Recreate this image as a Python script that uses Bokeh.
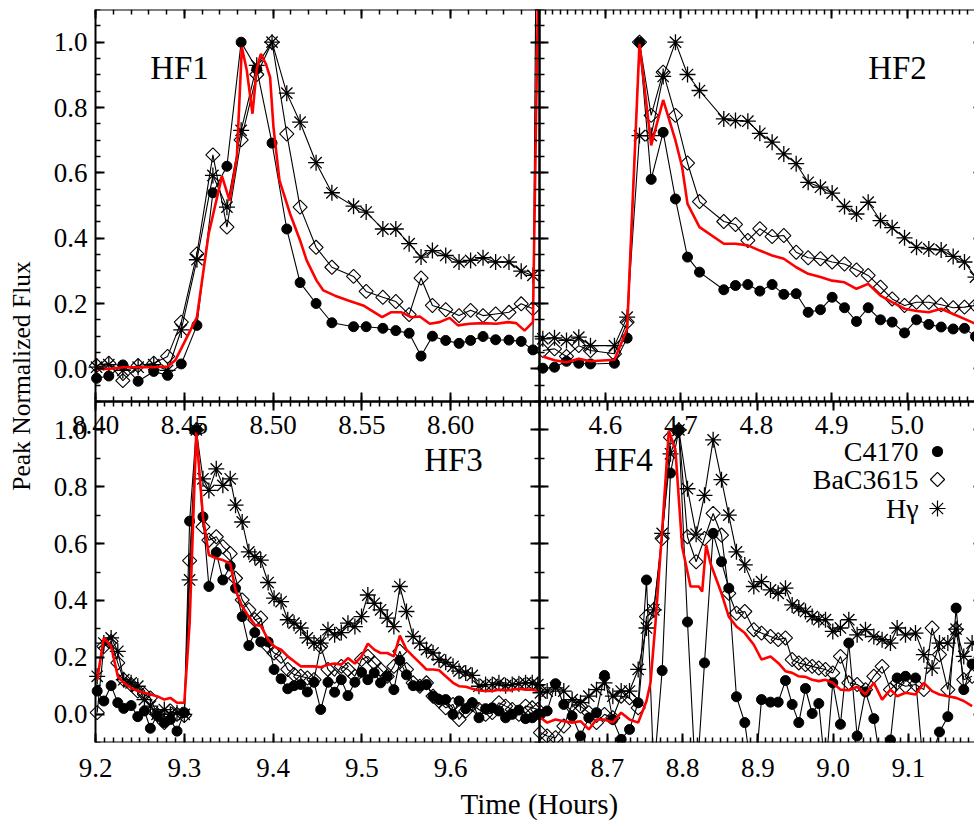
import math
from bokeh.plotting import figure
from bokeh.models import Range1d, LinearAxis, FixedTicker, PrintfTickFormatter, Label, Title
from bokeh.embed import file_html
from bokeh.resources import INLINE

# ------------------------------------------------------------------ data
# HF1
hf1_t = [8.4006, 8.4075, 8.4154, 8.4240, 8.4328, 8.4406, 8.4483, 8.4571, 8.4661, 8.4740,
         8.4820, 8.4908, 8.4994, 8.5077, 8.5152, 8.5242, 8.5331, 8.5453, 8.5524, 8.5618,
         8.5691, 8.5766, 8.5833, 8.5897, 8.5972, 8.6047, 8.6112, 8.6182, 8.6253, 8.6328,
         8.6397, 8.6463]
hf1_c_t = hf1_t + [8.6529]
hf1_c4170 = [-0.029, -0.022, 0.012, -0.038, -0.008, -0.020, 0.015, 0.133, 0.539, 0.620,
             1.000, 0.918, 0.691, 0.428, 0.264, 0.200, 0.141, 0.129, 0.129, 0.124,
             0.117, 0.109, 0.039, 0.100, 0.087, 0.078, 0.087, 0.099, 0.089, 0.088,
             0.084, 0.058, 4.6]
hf1_bac = [0.010, 0.017, -0.036, 0.010, 0.017, 0.038, 0.143, 0.352, 0.655, 0.434,
           0.701, 0.901, 1.000, 0.719, 0.495, 0.372, 0.311, 0.283, 0.237, 0.219,
           0.206, 0.166, 0.278, 0.194, 0.181, 0.163, 0.179, 0.163, 0.168, 0.173,
           0.199, 0.184]
hf1_hg = [0.005, 0.013, -0.005, 0.005, 0.013, -0.005, 0.119, 0.334, 0.592, 0.495,
          0.730, 0.929, 1.000, 0.844, 0.755, 0.631, 0.539, 0.498, 0.480, 0.428,
          0.428, 0.383, 0.342, 0.362, 0.347, 0.327, 0.332, 0.340, 0.327, 0.327,
          0.299, 0.286]
hf1_red_t = [8.4006, 8.4084, 8.4159, 8.4240, 8.4328, 8.4406, 8.4449, 8.4515, 8.4571, 8.4637,
             8.4712, 8.4755, 8.4796, 8.4824, 8.4852, 8.4884, 8.4908, 8.4931, 8.4959, 8.4983,
             8.5002, 8.5036, 8.5096, 8.5152, 8.5189, 8.5245, 8.5283, 8.5348, 8.5423, 8.5507,
             8.5614, 8.5663, 8.5723, 8.5779, 8.5826, 8.5882, 8.5938, 8.5994, 8.6041, 8.6107,
             8.6182, 8.6257, 8.6322, 8.6369, 8.6416, 8.6463, 8.6510]
hf1_red = [0.000, 0.000, 0.005, 0.005, 0.005, 0.007, 0.026, 0.097, 0.158, 0.413,
           0.590, 0.515, 0.648, 0.985, 0.913, 0.781, 0.918, 0.964, 0.934, 0.893,
           0.740, 0.577, 0.474, 0.393, 0.332, 0.270, 0.240, 0.224, 0.209, 0.194,
           0.158, 0.173, 0.173, 0.158, 0.160, 0.138, 0.143, 0.156, 0.133, 0.138,
           0.140, 0.138, 0.143, 0.140, 0.117, 0.143, 1.80]

# HF2
hf2_t = [4.5169, 4.5324, 4.5483, 4.5646, 4.5801, 4.6119, 4.6287, 4.6451, 4.6606, 4.6765,
         4.6928, 4.7088, 4.7247, 4.7569, 4.7724, 4.7888, 4.8047, 4.8210, 4.8365, 4.8529,
         4.8688, 4.8851, 4.9006, 4.9170, 4.9329, 4.9484, 4.9647, 4.9802, 4.9966, 5.0125,
         5.0288, 5.0452, 5.0611, 5.0761, 5.0907]
hf2_c4170 = [0.002, 0.005, 0.023, 0.017, 0.015, 0.017, 0.094, 1.000, 0.580, 0.724,
             0.520, 0.342, 0.296, 0.242, 0.255, 0.258, 0.238, 0.258, 0.228, 0.230,
             0.173, 0.181, 0.219, 0.187, 0.145, 0.187, 0.150, 0.143, 0.110, 0.150,
             0.136, 0.128, 0.122, 0.124, 0.099]
hf2_bac = [0.056, 0.061, 0.038, 0.071, 0.056, 0.046, 0.143, 1.000, 0.776, 0.908,
           0.776, 0.630, 0.512, 0.451, 0.442, 0.393, 0.429, 0.405, 0.408, 0.357,
           0.340, 0.337, 0.327, 0.321, 0.303, 0.286, 0.250, 0.214, 0.194, 0.204,
           0.204, 0.196, 0.187, 0.189, 0.194]
hf2_hg = [0.092, 0.095, 0.087, 0.097, 0.071, 0.071, 0.158, 0.714, 0.714, 0.895,
          1.000, 0.901, 0.852, 0.765, 0.760, 0.758, 0.721, 0.694, 0.658, 0.628,
          0.571, 0.556, 0.538, 0.497, 0.474, 0.510, 0.454, 0.432, 0.401, 0.372,
          0.367, 0.364, 0.344, 0.327, 0.281]
hf2_red_t = [4.5169, 4.5324, 4.5483, 4.5646, 4.5801, 4.6119, 4.6287, 4.6451, 4.6606, 4.6765,
             4.6928, 4.7017, 4.7088, 4.7247, 4.7569, 4.7724, 4.7888, 4.8047, 4.8210, 4.8365,
             4.8529, 4.8688, 4.8851, 4.9006, 4.9170, 4.9329, 4.9484, 4.9647, 4.9802, 4.9966,
             5.0125, 5.0288, 5.0452, 5.0611, 5.0761, 5.0907]
hf2_red = [0.038, 0.026, 0.020, 0.031, 0.023, 0.028, 0.122, 0.995, 0.684, 0.823,
           0.699, 0.617, 0.505, 0.434, 0.383, 0.383, 0.378, 0.362, 0.347, 0.337,
           0.311, 0.291, 0.281, 0.270, 0.265, 0.245, 0.260, 0.224, 0.204, 0.184,
           0.177, 0.173, 0.184, 0.168, 0.153, 0.138]

# HF3
hf3_t = [9.2019, 9.2094, 9.2176, 9.2251, 9.2318, 9.2401, 9.2476, 9.2551, 9.2618, 9.2693,
         9.2775, 9.2843, 9.2918, 9.3000, 9.3060, 9.3135, 9.3210, 9.3277, 9.3360, 9.3434,
         9.3517, 9.3577, 9.3652, 9.3727, 9.3794, 9.3861, 9.3944, 9.4011, 9.4090, 9.4165,
         9.4236, 9.4311, 9.4386, 9.4461, 9.4536, 9.4618, 9.4693, 9.4768, 9.4843, 9.4921,
         9.4996, 9.5067, 9.5139, 9.5210, 9.5285, 9.5360, 9.5427, 9.5502, 9.5577, 9.5652,
         9.5727, 9.5801, 9.5869, 9.5944, 9.6026, 9.6094, 9.6169, 9.6243, 9.6318, 9.6393,
         9.6468, 9.6543, 9.6618, 9.6693, 9.6768, 9.6843, 9.6918, 9.6981]
hf3_c4170 = [0.081, 0.046, 0.100, 0.040, 0.020, 0.030, -0.009, 0.011, -0.050, -0.005,
             -0.030, -0.019, -0.060, 0.005, 0.679, 1.000, 0.694, 0.449, 0.569, 0.472,
             0.521, 0.443, 0.343, 0.241, 0.287, 0.254, 0.254, 0.157, 0.124, 0.089,
             0.100, 0.104, 0.078, 0.112, 0.016, 0.112, 0.077, 0.121, 0.065, 0.112,
             0.147, 0.121, 0.145, 0.110, 0.133, 0.086, 0.189, 0.138, 0.100, 0.098,
             0.104, 0.063, 0.051, 0.051, -0.001, 0.046, 0.019, 0.040, -0.013, 0.019,
             0.022, 0.011, -0.013, -0.001, 0.014, -0.016, -0.013, -0.001]
hf3_bac = [0.005, 0.238, 0.256, 0.180, 0.121, 0.104, 0.081, 0.069, 0.057, -0.001,
           -0.030, 0.011, -0.001, -0.005, 0.540, 1.000, 0.659, 0.612, 0.624, 0.589,
           0.565, 0.478, 0.402, 0.367, 0.332, 0.338, 0.238, 0.215, 0.203, 0.157,
           0.139, 0.133, 0.127, 0.121, 0.238, 0.157, 0.133, 0.168, 0.157, 0.133,
           0.192, 0.203, 0.180, 0.157, 0.133, 0.168, 0.221, 0.157, 0.110, 0.098,
           0.110, 0.063, 0.046, 0.022, 0.034, -0.019, 0.011, 0.034, 0.016, -0.001,
           0.005, 0.040, 0.028, 0.016, -0.001, 0.028, 0.022, 0.016]
hf3_hg = [0.133, 0.250, 0.268, 0.221, 0.121, 0.110, 0.098, 0.051, 0.028, -0.001,
          0.016, -0.001, 0.005, -0.001, 0.472, 1.000, 0.828, 0.787, 0.863, 0.805,
          0.828, 0.735, 0.676, 0.571, 0.554, 0.542, 0.463, 0.408, 0.396, 0.332,
          0.320, 0.303, 0.268, 0.250, 0.250, 0.297, 0.279, 0.287, 0.320, 0.308,
          0.343, 0.419, 0.390, 0.367, 0.338, 0.308, 0.449, 0.361, 0.273, 0.250,
          0.227, 0.215, 0.192, 0.182, 0.168, 0.151, 0.145, 0.136, 0.098, 0.104,
          0.104, 0.110, 0.100, 0.104, 0.107, 0.110, 0.110, 0.104]
hf3_red = [0.121, 0.268, 0.238, 0.133, 0.110, 0.092, 0.081, 0.075, 0.069, 0.063,
           0.051, 0.057, 0.040, 0.040, 0.320, 0.992, 0.694, 0.560, 0.548, 0.542,
           0.530, 0.437, 0.379, 0.343, 0.314, 0.311, 0.262, 0.238, 0.227, 0.203,
           0.186, 0.168, 0.168, 0.168, 0.165, 0.174, 0.178, 0.174, 0.197, 0.178,
           0.203, 0.248, 0.227, 0.215, 0.215, 0.203, 0.276, 0.227, 0.203, 0.180,
           0.157, 0.157, 0.154, 0.133, 0.110, 0.098, 0.096, 0.089, 0.083, 0.081,
           0.081, 0.086, 0.083, 0.086, 0.089, 0.086, 0.086, 0.081]

# HF4
hf4_t = [8.6109, 8.6198, 8.6309, 8.6419, 8.6530, 8.6641, 8.6752, 8.6854, 8.6960, 8.7071,
         8.7182, 8.7293, 8.7408, 8.7519, 8.7616, 8.7727, 8.7838, 8.7949, 8.8064, 8.8179,
         8.8290, 8.8405, 8.8516, 8.8613, 8.8715, 8.8826, 8.8946, 8.9048, 8.9168, 8.9270,
         8.9367, 8.9456, 8.9544, 8.9633, 8.9722, 8.9810, 8.9899, 8.9996, 9.0098, 9.0209,
         9.0320, 9.0431, 9.0542, 9.0652, 9.0763, 9.0852, 9.0963, 9.1096, 9.1207, 9.1317,
         9.1415, 9.1526, 9.1636, 9.1738, 9.1849]
hf4_c4170 = [-0.001, 0.011, 0.107, 0.034, -0.007, -0.077, -0.013, 0.005, 0.136, -0.019,
             -0.089, -0.054, 0.040, 0.472, -0.206, 0.153, 0.848, 1.000, 0.324, -0.264,
             0.180, 0.636, 0.536, 0.443, 0.061, -0.030, -0.264, 0.051, 0.042, 0.042,
             0.118, 0.034, -0.030, 0.090, 0.002, 0.037, -0.206, 0.110, -0.036, 0.250,
             -0.077, 0.078, -0.016, -0.206, -0.091, 0.127, 0.133, 0.127, -0.206, -0.147,
             -0.063, -0.009, 0.373, 0.086, 0.176]
hf4_bac = [-0.065, -0.077, -0.083, -0.042, 0.034, 0.028, 0.005, -0.030, -0.001, -0.013,
           0.063, 0.057, 0.022, 0.343, 0.367, 0.618, 0.974, 1.000, 0.624, 0.536,
           0.618, 0.706, 0.630, 0.425, 0.355, 0.361, 0.297, 0.285, 0.273, 0.262,
           0.268, 0.192, 0.180, 0.174, 0.168, 0.162, 0.157, 0.145, 0.203, 0.110,
           0.104, 0.086, 0.133, 0.168, 0.086, 0.110, 0.098, 0.104, 0.086, 0.303,
           0.209, 0.086, 0.297, 0.121, 0.133]
hf4_hg = [0.075, 0.081, 0.092, 0.081, 0.051, 0.040, 0.063, 0.086, 0.110, 0.063,
          0.081, 0.081, 0.157, 0.303, 0.367, 0.636, 0.916, 1.000, 0.793, 0.633,
          0.770, 0.965, 0.825, 0.700, 0.571, 0.525, 0.449, 0.466, 0.437, 0.425,
          0.443, 0.384, 0.373, 0.361, 0.343, 0.332, 0.332, 0.291, 0.303, 0.332,
          0.279, 0.297, 0.273, 0.262, 0.250, 0.303, 0.279, 0.285, 0.209, 0.162,
          0.250, 0.250, 0.299, 0.203, 0.250]
hf4_red_t = [8.6109, 8.6198, 8.6309, 8.6419, 8.6530, 8.6641, 8.6752, 8.6854, 8.6960, 8.7071,
             8.7182, 8.7293, 8.7408, 8.7519, 8.7572, 8.7638, 8.7727, 8.7816, 8.7904, 8.7993,
             8.8104, 8.8215, 8.8259, 8.8312, 8.8370, 8.8516, 8.8613, 8.8715, 8.8826, 8.8946,
             8.9048, 8.9168, 8.9270, 8.9367, 8.9456, 8.9544, 8.9633, 8.9722, 8.9810, 8.9899,
             8.9996, 9.0098, 9.0209, 9.0320, 9.0431, 9.0542, 9.0652, 9.0763, 9.0852, 9.0963,
             9.1096, 9.1207, 9.1317, 9.1415, 9.1526, 9.1636, 9.1738, 9.1849]
hf4_red = [-0.013, -0.030, -0.019, -0.025, -0.030, -0.025, -0.054, -0.019, -0.019, -0.030,
           0.005, -0.019, -0.030, 0.046, 0.110, 0.320, 0.647, 0.998, 0.928, 0.589,
           0.449, 0.449, 0.431, 0.595, 0.530, 0.425, 0.343, 0.308, 0.285, 0.244,
           0.192, 0.203, 0.180, 0.151, 0.145, 0.133, 0.131, 0.121, 0.116, 0.121,
           0.110, 0.086, 0.084, 0.096, 0.069, 0.110, 0.051, 0.086, 0.063, 0.075,
           0.069, 0.110, 0.081, 0.069, 0.063, 0.057, 0.046, 0.028]

# axis limits and ticks
hf1_xlim = (8.40, 8.65)
hf2_xlim = (4.5125, 5.10)
hf3_xlim = (9.20, 9.70)
hf4_xlim = (8.6096, 9.1987)
y_lim = (-0.1, 1.1)
hf1_xticks = [8.40, 8.45, 8.50, 8.55, 8.60]
hf2_xticks = [4.6, 4.7, 4.8, 4.9, 5.0]
hf3_xticks = [9.2, 9.3, 9.4, 9.5, 9.6]
hf4_xticks = [8.7, 8.8, 8.9, 9.0, 9.1]
y_ticks = [0.0, 0.2, 0.4, 0.6, 0.8, 1.0]
panel_names = ["HF1", "HF2", "HF3", "HF4"]
legend_names = ["C4170", "BaC3615", "H\u03b3"]


def steps(a, b, d):
    n = int(round((b - a) / d))
    return [round(a + i * d, 4) for i in range(n + 1)]


# ------------------------------------------------------------------ geometry
FONT = "Liberation Serif"
TICK_FS = "27px"
W, H = 974, 825
FL, FT, FR, FB = 48, 9, 974, 742          # plotting frame (px); left margin holds y labels
COLS = [(95, 539), (539, 982)]             # panel columns (px)
ROWS = [(9, 401), (401, 742)]              # panel rows (px)


def xr_for(lim, col):
    a, b = lim
    p0, p1 = col
    s = (b - a) / (p1 - p0)
    return Range1d(start=a - (p0 - FL) * s, end=b + (FR - p1) * s)


def yr_for(lim, row):
    a, b = lim
    top, bot = row
    s = (b - a) / (bot - top)
    return Range1d(start=a - (FB - bot) * s, end=b + (top - FT) * s)


x_main = xr_for(hf1_xlim, COLS[0])
y_main = yr_for(y_lim, ROWS[0])
p = figure(width=W, height=H, output_backend="svg", toolbar_location=None, title=None,
           x_axis_location=None, y_axis_location=None, x_range=x_main, y_range=y_main,
           min_border_left=FL, min_border_right=W - FR, min_border_top=FT,
           min_border_bottom=H - FB)
p.extra_x_ranges = {"hf2": xr_for(hf2_xlim, COLS[1]),
                    "hf3": xr_for(hf3_xlim, COLS[0]),
                    "hf4": xr_for(hf4_xlim, COLS[1])}
p.extra_y_ranges = {"bot": yr_for(y_lim, ROWS[1])}
p.grid.visible = False
p.outline_line_color = None
p.background_fill_color = "white"
p.border_fill_color = "white"


def px_of_x(t, col, xlim):
    return col[0] + (t - xlim[0]) * (col[1] - col[0]) / (xlim[1] - xlim[0])


def main_x(px):
    return x_main.start + (px - FL) * (x_main.end - x_main.start) / (FR - FL)


def pos(px, py, col, row, xlim):
    """text position (pixels -> panel data units)"""
    x = xlim[0] + (px - col[0]) * (xlim[1] - xlim[0]) / (col[1] - col[0])
    y = y_lim[1] - (py - row[0]) * (y_lim[1] - y_lim[0]) / (row[1] - row[0])
    return x, y


AX_STYLE = dict(axis_line_color="black", axis_line_width=2,
                major_tick_line_color="black", major_tick_line_width=2,
                minor_tick_line_color="black", minor_tick_line_width=1.5,
                major_tick_in=9, major_tick_out=0, minor_tick_in=5, minor_tick_out=0,
                major_label_text_font=FONT, major_label_text_font_size=TICK_FS,
                major_label_text_color="black")


def add_axis(side, xr, yr, loc, lim, ticks, minor, fmt, show):
    horiz = side in ("below", "above")
    ax = LinearAxis(x_range_name=xr, y_range_name=yr, fixed_location=loc, bounds=lim,
                    ticker=FixedTicker(ticks=ticks, minor_ticks=minor),
                    formatter=PrintfTickFormatter(format=fmt),
                    major_label_standoff=14 if horiz else 8, **AX_STYLE)
    if not show:
        ax.major_label_overrides = {t: "" for t in ticks}
    p.add_layout(ax, side)


panels = [
    dict(xr="default", yr="default", col=COLS[0], row=ROWS[0], xlim=hf1_xlim, xt=hf1_xticks,
         xm=steps(8.40, 8.65, 0.01), fmt="%.2f", ym=steps(-0.1, 1.1, 0.05),
         xlab=True, ylab=True,
         t=hf1_t, c_t=hf1_c_t, c=hf1_c4170, b=hf1_bac, h=hf1_hg, rt=hf1_red_t, r=hf1_red,
         lab=(179, 67)),
    dict(xr="hf2", yr="default", col=COLS[1], row=ROWS[0], xlim=hf2_xlim, xt=hf2_xticks,
         xm=steps(4.52, 5.10, 0.01), fmt="%.1f", ym=steps(-0.1, 1.1, 0.05),
         xlab=True, ylab=False,
         t=hf2_t, c_t=hf2_t, c=hf2_c4170, b=hf2_bac, h=hf2_hg, rt=hf2_red_t, r=hf2_red,
         lab=(897, 67)),
    dict(xr="hf3", yr="bot", col=COLS[0], row=ROWS[1], xlim=hf3_xlim, xt=hf3_xticks,
         xm=steps(9.20, 9.70, 0.01), fmt="%.1f", ym=steps(-0.1, 1.1, 0.1),
         xlab=False, ylab=True,
         t=hf3_t, c_t=hf3_t, c=hf3_c4170, b=hf3_bac, h=hf3_hg, rt=hf3_t, r=hf3_red,
         lab=(453, 459)),
    dict(xr="hf4", yr="bot", col=COLS[1], row=ROWS[1], xlim=hf4_xlim, xt=hf4_xticks,
         xm=steps(8.61, 9.19, 0.01), fmt="%.1f", ym=steps(-0.1, 1.1, 0.1),
         xlab=False, ylab=False,
         t=hf4_t, c_t=hf4_t, c=hf4_c4170, b=hf4_bac, h=hf4_hg, rt=hf4_red_t, r=hf4_red,
         lab=(623, 459)),
]

for name, pn in zip(panel_names, panels):
    kw = dict(x_range_name=pn["xr"], y_range_name=pn["yr"])
    # C4170: filled circles
    p.line(pn["c_t"], pn["c"], line_color="black", line_width=1.1, **kw)
    p.scatter(pn["c_t"], pn["c"], marker="circle", size=10, fill_color="black",
              line_color="black", **kw)
    # BaC3615: open diamonds
    p.line(pn["t"], pn["b"], line_color="black", line_width=1.1, **kw)
    p.scatter(pn["t"], pn["b"], marker="square", angle=math.pi / 4, size=10,
              fill_color=None, line_color="black", line_width=1.1, **kw)
    # H-gamma: asterisks
    p.line(pn["t"], pn["h"], line_color="black", line_width=1.1, **kw)
    p.scatter(pn["t"], pn["h"], marker="asterisk", size=16, line_color="black",
              line_width=1.3, **kw)
    # red curve
    p.line(pn["rt"], pn["r"], line_color="#ff0000", line_width=2.6, **kw)

    # box axes with inward ticks
    xl, yl = pn["xlim"], y_lim
    add_axis("below", pn["xr"], pn["yr"], yl[0], xl, pn["xt"], pn["xm"], pn["fmt"],
             pn["xlab"])
    add_axis("above", pn["xr"], pn["yr"], yl[1], xl, pn["xt"], pn["xm"], pn["fmt"], False)
    add_axis("left", pn["xr"], pn["yr"], xl[0], yl, y_ticks, pn["ym"], "%.1f", pn["ylab"])
    add_axis("right", pn["xr"], pn["yr"], xl[1], yl, y_ticks, pn["ym"], "%.1f", False)

    lx, ly = pos(pn["lab"][0], pn["lab"][1], pn["col"], pn["row"], pn["xlim"])
    p.add_layout(Label(x=lx, y=ly, text=name, text_align="center", text_baseline="middle",
                       text_font=FONT, text_font_size="33px", text_color="black", **kw))

# ---- bottom tick labels of the lower panels (below the frame)
xlab_pos, xlab_txt = [], {}
for pn in panels[2:]:
    for t in pn["xt"]:
        xx = round(main_x(px_of_x(t, pn["col"], pn["xlim"])), 6)
        xlab_pos.append(xx)
        xlab_txt[xx] = "%.1f" % t

p.add_layout(LinearAxis(ticker=FixedTicker(ticks=xlab_pos, minor_ticks=[]),
                        major_label_overrides=xlab_txt, major_label_standoff=16,
                        axis_line_color=None, major_tick_in=0, major_tick_out=0,
                        minor_tick_in=0, minor_tick_out=0, major_label_text_font=FONT,
                        major_label_text_font_size=TICK_FS, major_label_text_color="black"),
             "below")

# legend inside HF4
pn = panels[3]
leg_rows = [451, 479, 508]
markers = [dict(marker="circle", size=10, fill_color="black", angle=0.0),
           dict(marker="square", size=10, fill_color=None, angle=math.pi / 4),
           dict(marker="asterisk", size=16, fill_color=None, angle=0.0)]
for txt, py, mk in zip(legend_names, leg_rows, markers):
    tx, ty = pos(918, py, pn["col"], pn["row"], pn["xlim"])
    mx, my = pos(937, py, pn["col"], pn["row"], pn["xlim"])
    p.add_layout(Label(x=tx, y=ty, text=txt, text_align="right", text_baseline="middle",
                       text_font=FONT, text_font_size="28px", text_color="black",
                       x_range_name="hf4", y_range_name="bot"))
    p.scatter([mx], [my], line_color="black", line_width=1.2,
              x_range_name="hf4", y_range_name="bot", **mk)

# overall axis titles
title_kw = dict(ticker=FixedTicker(ticks=[]), axis_line_color=None,
                major_tick_in=0, major_tick_out=0, minor_tick_in=0, minor_tick_out=0,
                major_label_standoff=0, axis_label_text_font=FONT,
                axis_label_text_font_style="normal", axis_label_text_color="black")
p.add_layout(LinearAxis(axis_label="Peak Normalized Flux", axis_label_standoff=13,
                        axis_label_text_font_size="25.5px", **title_kw), "left")
# x title: left-aligned with an offset so that it is centred on the two panel columns
X_TITLE_WIDTH = 157
x_title_offset = (COLS[0][0] + COLS[1][1]) / 2 - X_TITLE_WIDTH / 2 - FL
p.add_layout(Title(text="Time (Hours)", align="left", offset=x_title_offset,
                   text_font=FONT, text_font_size="29px", text_font_style="normal",
                   text_color="black", standoff=12), "below")

open("out.html", "w").write(file_html(p, INLINE))
